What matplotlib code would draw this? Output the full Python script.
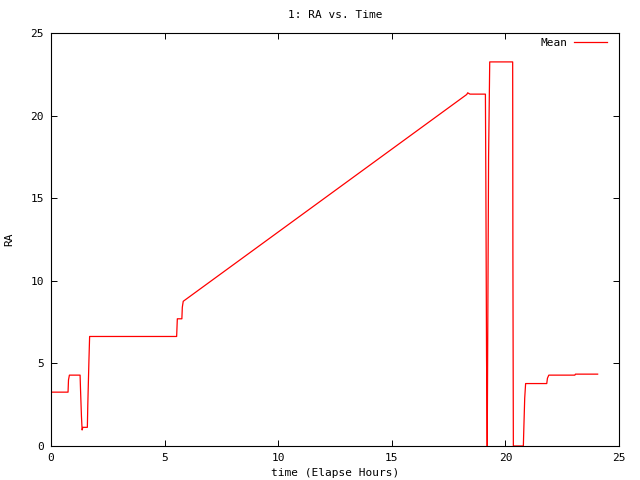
import matplotlib
matplotlib.use("Agg")
import matplotlib.pyplot as plt

time_hours = [0.0, 0.75, 0.77, 0.81, 1.28, 1.30, 1.34, 1.37, 1.40, 1.60, 1.62, 1.67, 1.70,
              5.53, 5.56, 5.58, 5.76, 5.78, 5.82,
              18.30, 18.34, 18.44, 19.12, 19.14, 19.17, 19.20, 19.22, 19.26, 19.31,
              20.32, 20.33, 20.35, 20.79, 20.81, 20.85, 20.89, 21.82, 21.85, 21.91,
              23.06, 23.08, 24.06]
ra_mean = [3.26, 3.26, 4.0, 4.29, 4.29, 3.4, 1.8, 0.97, 1.13, 1.13, 2.5, 5.2, 6.63,
           6.63, 7.7, 7.7, 7.7, 8.4, 8.76,
           21.28, 21.38, 21.3, 21.3, 16.0, 5.4, 0.0, 5.9, 17.5, 23.25,
           23.25, 11.7, 0.0, 0.0, 1.0, 2.9, 3.78, 3.78, 4.1, 4.29,
           4.29, 4.35, 4.35]

x_ticks = [0, 5, 10, 15, 20, 25]
y_ticks = [0, 5, 10, 15, 20, 25]

plt.rcParams['font.family'] = ['DejaVu Sans Mono']
fs = 8

fig = plt.figure(figsize=(6.4, 4.8), dpi=100)
ax = fig.add_axes([51/640, 1 - 446/480, (619-51)/640, (446-33)/480])
ax.plot(time_hours, ra_mean, color='#ff0000', lw=0.9, label='Mean')
ax.set_xlim(0, 25)
ax.set_ylim(0, 25)
ax.set_xticks(x_ticks)
ax.set_yticks(y_ticks)
ax.tick_params(direction='in', length=4, width=0.7, top=True, right=True,
               labelsize=fs, pad=5)
for s in ax.spines.values():
    s.set_linewidth(0.8)
ax.set_title('1: RA vs. Time', fontsize=fs, pad=11)
ax.set_xlabel('time (Elapse Hours)', fontsize=fs, labelpad=4)
ax.set_ylabel('RA', fontsize=fs, labelpad=12)
leg = ax.legend(loc='upper right', bbox_to_anchor=(0.979, 0.988), frameon=False,
                fontsize=fs, markerfirst=False, handlelength=3.0,
                handletextpad=0.6, borderaxespad=0.0, borderpad=0.0)
fig.savefig('out.png', dpi=100)
